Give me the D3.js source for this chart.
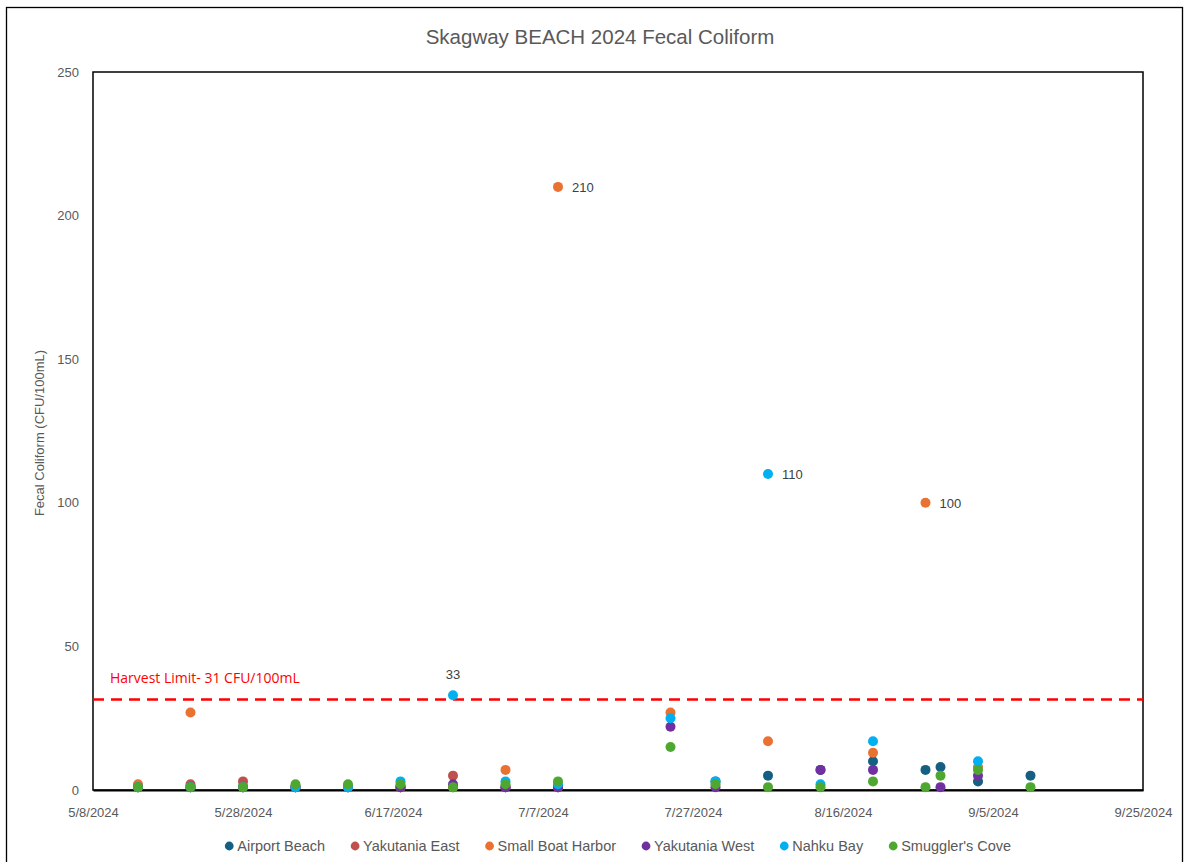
<!DOCTYPE html>
<html>
<head>
<meta charset="utf-8">
<script src="https://cdn.jsdelivr.net/npm/d3@7"></script>
<style>
  html, body { margin: 0; padding: 0; background: #fff; }
  svg { display: block; }
  text { font-family: "Liberation Sans", Arial, sans-serif; }
</style>
</head>
<body>
<svg id="chart" width="1184" height="862"></svg>
<script>
// Sampling dates and fecal coliform results (CFU/100mL) per beach
const dates = ["2024-05-14","2024-05-21","2024-05-28","2024-06-04","2024-06-11","2024-06-18",
               "2024-06-25","2024-07-02","2024-07-09","2024-07-24","2024-07-30","2024-08-06",
               "2024-08-13","2024-08-20","2024-08-27","2024-08-29","2024-09-03","2024-09-10"];

const airportBeach    = [1, 1, 1, 1, 1, 1, 1, 1, 1, null, 3, 5, 7, 10, 7, 8, 3, 5];
const yakutaniaEast   = [1, 2, 3, 1, 1, 1, 5, 1, 1, null, null, null, null, null, null, null, null, null];
const smallBoatHarbor = [2, 27, 1, 1, 1, 1, 1, 7, 210, 27, null, 17, null, 13, 100, null, 8, null];
const yakutaniaWest   = [1, 1, 1, 1, 1, 1, 2, 1, 1, 22, 1, null, 7, 7, null, 1, 5, null];
const nahkuBay        = [1, 1, 1, 1, 1, 3, 33, 3, 2, 25, 3, 110, 2, 17, null, null, 10, null];
const smugglersCove   = [1, 1, 1, 2, 2, 2, 1, 2, 3, 15, 2, 1, 1, 3, 1, 5, 7, 1];

const seriesNames  = ["Airport Beach", "Yakutania East", "Small Boat Harbor", "Yakutania West", "Nahku Bay", "Smuggler's Cove"];
const seriesValues = [airportBeach, yakutaniaEast, smallBoatHarbor, yakutaniaWest, nahkuBay, smugglersCove];
const seriesColors = ["#156082", "#C0504D", "#E97132", "#7030A0", "#00B0F0", "#4EA72E"];

const xTickLabels = ["5/8/2024","5/28/2024","6/17/2024","7/7/2024","7/27/2024","8/16/2024","9/5/2024","9/25/2024"];
const yTicks = [0, 50, 100, 150, 200, 250];
const harvestLimit = 31;
// values that carry a data label: [series index, date index]
const labelled = [[2, 8], [4, 11], [2, 14], [4, 6]];

const parse = d3.timeParse("%Y-%m-%d");
const parseTick = d3.timeParse("%m/%d/%Y");
const fmtTick = d => `${d.getMonth() + 1}/${d.getDate()}/${d.getFullYear()}`;

const svg = d3.select("#chart");
const m = { left: 93, right: 1143, top: 72, bottom: 790 };

// chart frame
svg.append("rect").attr("x", 6.5).attr("y", 7.5).attr("width", 1176).attr("height", 880)
  .attr("fill", "#fff").attr("stroke", "#000").attr("stroke-width", 1.3);

const tickDates = xTickLabels.map(parseTick);
const x = d3.scaleTime().domain([tickDates[0], tickDates[tickDates.length - 1]]).range([m.left, m.right]);
const y = d3.scaleLinear().domain([0, 250]).range([m.bottom, m.top]);

// title
svg.append("text").attr("x", 600).attr("y", 44).attr("text-anchor", "middle")
  .attr("font-size", 20.5).attr("fill", "#595959").text("Skagway BEACH 2024 Fecal Coliform");

// plot area box
svg.append("rect").attr("x", m.left).attr("y", m.top)
  .attr("width", m.right - m.left).attr("height", m.bottom - m.top)
  .attr("fill", "none").attr("stroke", "#000").attr("stroke-width", 1.5);

// y axis
const yAxis = d3.axisLeft(y).tickValues(yTicks).tickSize(0).tickPadding(14);
const gy = svg.append("g").attr("transform", `translate(${m.left},0)`).call(yAxis);
gy.select(".domain").remove();
gy.selectAll("text").attr("font-size", 13).attr("fill", "#595959")
  .style("font-family", "'Liberation Sans', Arial, sans-serif");

// x axis
const xAxis = d3.axisBottom(x).tickValues(tickDates).tickFormat(fmtTick).tickSize(0).tickPadding(18);
const gx = svg.append("g").attr("transform", `translate(0,${m.bottom})`).call(xAxis);
gx.select(".domain").attr("stroke", "#000").attr("stroke-width", 2);
gx.selectAll("text").attr("font-size", 13).attr("fill", "#595959")
  .style("font-family", "'Liberation Sans', Arial, sans-serif");

// y axis title
svg.append("text").attr("transform", `translate(44,${(m.top + m.bottom) / 2 + 2}) rotate(-90)`)
  .attr("text-anchor", "middle").attr("font-size", 13).attr("fill", "#595959")
  .text("Fecal Coliform (CFU/100mL)");

// harvest limit line and label
svg.append("line").attr("x1", m.left).attr("x2", m.right)
  .attr("y1", y(harvestLimit) - 1.5).attr("y2", y(harvestLimit) - 1.5)
  .attr("stroke", "#FF0000").attr("stroke-width", 2.5).attr("stroke-dasharray", "11,7");
svg.append("text").attr("x", 110).attr("y", y(harvestLimit) - 18)
  .attr("font-size", 14).attr("fill", "#FF0000")
  .style("font-family", "'Open Sans', sans-serif")
  .text(`Harvest Limit- ${harvestLimit} CFU/100mL`);

// points, one series after another so later series sit on top
seriesValues.forEach((vals, si) => {
  const pts = dates.map((d, i) => ({ date: parse(d), v: vals[i] })).filter(p => p.v != null);
  svg.append("g").selectAll("circle").data(pts).join("circle")
    .attr("cx", p => x(p.date)).attr("cy", p => y(p.v)).attr("r", 5)
    .attr("fill", seriesColors[si]);
});

// data labels
labelled.forEach(([si, di]) => {
  const v = seriesValues[si][di];
  const px = x(parse(dates[di])), py = y(v);
  const above = v < 50;
  svg.append("text")
    .attr("x", above ? px : px + 14).attr("y", above ? py - 16 : py + 5)
    .attr("text-anchor", above ? "middle" : "start")
    .attr("font-size", 13).attr("fill", "#404040").text(v);
});

// legend
const legendItems = seriesNames.map((n, i) => ({ name: n, color: seriesColors[i] }));
const lg = svg.append("g").attr("transform", "translate(0,846)");
const fs = 14.5;
const widths = [];
const tmp = lg.selectAll("text.tmp").data(legendItems).join("text")
  .attr("font-size", fs).text(d => d.name).each(function () { widths.push(this.getComputedTextLength()); });
tmp.remove();
const textOff = 8, gap = 30, r = 4.4;
const total = r + d3.sum(widths) + legendItems.length * textOff + (legendItems.length - 1) * gap;
let cx = 618 - total / 2 + r;
legendItems.forEach((it, i) => {
  lg.append("circle").attr("cx", cx).attr("cy", 0).attr("r", r).attr("fill", it.color);
  lg.append("text").attr("x", cx + textOff).attr("y", 5).attr("font-size", fs)
    .attr("fill", "#595959").text(it.name);
  cx += textOff + widths[i] + gap;
});
</script>
</body>
</html>
